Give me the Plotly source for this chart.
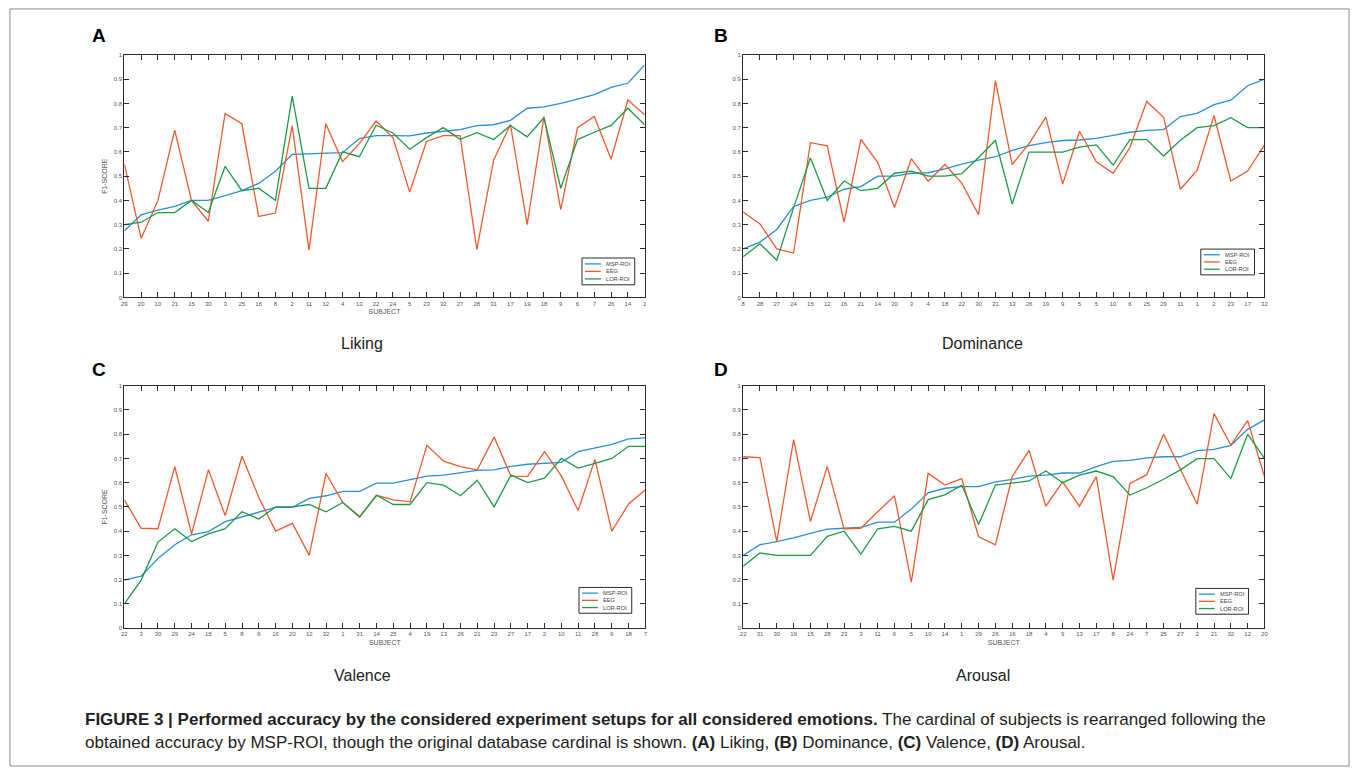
import plotly.graph_objects as go

W, H = 1357, 775

series_names = ["MSP-ROI", "EEG", "LOR-ROI"]
y_ticks = [0, 0.1, 0.2, 0.3, 0.4, 0.5, 0.6, 0.7, 0.8, 0.9, 1]
y_ticktext = ["0", "0.1", "0.2", "0.3", "0.4", "0.5", "0.6", "0.7", "0.8", "0.9", "1"]

# ---- Panel A: Liking ----
labels_A = [29, 20, 10, 21, 15, 30, 3, 25, 16, 8, 2, 11, 12, 4, 13, 22, 24, 5, 23, 32, 27, 28, 31, 17, 19, 18, 9, 6, 7, 26, 14, 1]
msp_A = [0.275, 0.34, 0.36, 0.375, 0.40, 0.40, 0.42, 0.44, 0.47, 0.52, 0.59, 0.592, 0.595, 0.597, 0.655, 0.667,
         0.667, 0.666, 0.678, 0.686, 0.692, 0.708, 0.712, 0.73, 0.78, 0.786, 0.80, 0.818, 0.836, 0.866, 0.883, 0.959]
eeg_A = [0.55, 0.243, 0.40, 0.69, 0.40, 0.314, 0.758, 0.716, 0.334, 0.348, 0.707, 0.195, 0.716, 0.56, 0.634, 0.727,
         0.659, 0.434, 0.643, 0.667, 0.667, 0.198, 0.566, 0.713, 0.30, 0.746, 0.362, 0.70, 0.746, 0.57, 0.814, 0.753]
lor_A = [0.30, 0.31, 0.35, 0.35, 0.40, 0.35, 0.54, 0.44, 0.45, 0.40, 0.83, 0.45, 0.45, 0.60, 0.58, 0.71,
         0.678, 0.611, 0.659, 0.70, 0.652, 0.679, 0.651, 0.709, 0.662, 0.741, 0.45, 0.651, 0.681, 0.709, 0.78, 0.712]

# ---- Panel B: Dominance ----
labels_B = [8, 28, 27, 24, 15, 12, 16, 21, 14, 20, 3, 4, 18, 22, 30, 31, 13, 26, 19, 9, 5, 5, 10, 6, 25, 29, 11, 1, 2, 23, 17, 32]
msp_B = [0.20, 0.228, 0.28, 0.375, 0.40, 0.413, 0.446, 0.457, 0.50, 0.50, 0.512, 0.514, 0.53, 0.55, 0.566, 0.58,
         0.606, 0.626, 0.638, 0.647, 0.649, 0.656, 0.668, 0.681, 0.689, 0.692, 0.746, 0.759, 0.795, 0.813, 0.873, 0.90]
eeg_B = [0.352, 0.303, 0.20, 0.183, 0.638, 0.625, 0.311, 0.652, 0.557, 0.371, 0.572, 0.479, 0.548, 0.471, 0.341, 0.894,
         0.548, 0.634, 0.743, 0.467, 0.685, 0.559, 0.512, 0.618, 0.808, 0.743, 0.446, 0.525, 0.75, 0.48, 0.521, 0.628]
lor_B = [0.168, 0.221, 0.153, 0.37, 0.576, 0.40, 0.48, 0.44, 0.45, 0.512, 0.521, 0.50, 0.50, 0.51, 0.577, 0.648,
         0.385, 0.599, 0.599, 0.599, 0.62, 0.629, 0.546, 0.651, 0.651, 0.583, 0.648, 0.70, 0.708, 0.741, 0.70, 0.70]

# ---- Panel C: Valence ----
labels_C = [22, 3, 30, 29, 24, 15, 5, 8, 6, 16, 20, 12, 32, 1, 31, 14, 25, 4, 19, 13, 26, 21, 23, 27, 17, 2, 10, 11, 28, 9, 18, 7]
msp_C = [0.198, 0.214, 0.287, 0.344, 0.385, 0.398, 0.439, 0.458, 0.48, 0.498, 0.498, 0.535, 0.546, 0.564, 0.564, 0.598,
         0.598, 0.614, 0.627, 0.631, 0.642, 0.651, 0.653, 0.667, 0.676, 0.68, 0.684, 0.728, 0.743, 0.758, 0.781, 0.785]
eeg_C = [0.529, 0.412, 0.41, 0.666, 0.389, 0.653, 0.464, 0.709, 0.539, 0.40, 0.432, 0.30, 0.638, 0.518, 0.457, 0.548,
         0.529, 0.521, 0.754, 0.689, 0.666, 0.653, 0.788, 0.627, 0.626, 0.728, 0.628, 0.485, 0.696, 0.40, 0.512, 0.571]
lor_C = [0.10, 0.198, 0.355, 0.41, 0.357, 0.389, 0.41, 0.48, 0.45, 0.50, 0.50, 0.51, 0.48, 0.518, 0.46, 0.548,
         0.51, 0.51, 0.60, 0.59, 0.546, 0.61, 0.50, 0.631, 0.60, 0.619, 0.70, 0.66, 0.68, 0.70, 0.75, 0.75]

# ---- Panel D: Arousal ----
labels_D = [22, 31, 30, 19, 15, 28, 23, 3, 11, 6, 5, 10, 14, 1, 29, 26, 16, 18, 4, 9, 13, 17, 8, 24, 7, 25, 27, 2, 21, 32, 12, 20]
msp_D = [0.30, 0.344, 0.357, 0.372, 0.391, 0.408, 0.412, 0.415, 0.437, 0.437, 0.491, 0.558, 0.577, 0.584, 0.584, 0.603,
         0.614, 0.627, 0.631, 0.64, 0.64, 0.666, 0.688, 0.692, 0.702, 0.707, 0.707, 0.732, 0.737, 0.754, 0.82, 0.859]
eeg_D = [0.707, 0.703, 0.357, 0.778, 0.44, 0.666, 0.41, 0.412, 0.48, 0.546, 0.19, 0.638, 0.59, 0.617, 0.377, 0.344,
         0.625, 0.733, 0.503, 0.603, 0.503, 0.625, 0.198, 0.597, 0.633, 0.80, 0.655, 0.511, 0.885, 0.755, 0.856, 0.625]
lor_D = [0.255, 0.31, 0.30, 0.30, 0.30, 0.379, 0.40, 0.305, 0.41, 0.42, 0.40, 0.53, 0.55, 0.59, 0.427, 0.59,
         0.598, 0.607, 0.648, 0.60, 0.631, 0.648, 0.625, 0.549, 0.579, 0.614, 0.653, 0.699, 0.699, 0.617, 0.80, 0.70]

colors = ["#2a8fd3", "#ee5a2c", "#1e9a48"]
AX = "#2b2b2b"
TICKC = "#555555"
FONT = "Liberation Sans, Arial, sans-serif"


def px(x):
    return x / W


def py(y):
    return 1 - y / H


panels = [
    dict(letter="A", title="Liking", labels=labels_A, data=[msp_A, eeg_A, lor_A],
         box=(122, 52.3, 645, 296.7), xt=True, yt=True, leg=(582, 257, 635, 284), lab=(97, 33), sub=(361, 343)),
    dict(letter="B", title="Dominance", labels=labels_B, data=[msp_B, eeg_B, lor_B],
         box=(744, 52.3, 1268, 296.7), xt=False, yt=False, leg=(1204, 248, 1258, 274), lab=(722, 33), sub=(985, 343)),
    dict(letter="C", title="Valence", labels=labels_C, data=[msp_C, eeg_C, lor_C],
         box=(122, 385.7, 645.7, 630), xt=True, yt=True, leg=(579, 589, 632, 615), lab=(97, 369), sub=(361, 678)),
    dict(letter="D", title="Arousal", labels=labels_D, data=[msp_D, eeg_D, lor_D],
         box=(744, 385.7, 1268, 630), xt=True, yt=False, leg=(1199, 590, 1252, 616), lab=(722, 369), sub=(985, 678)),
]

fig = go.Figure()
layout = dict(
    width=W, height=H, autosize=False,
    margin=dict(l=0, r=0, t=0, b=0),
    paper_bgcolor="white", plot_bgcolor="white",
    showlegend=False,
    font=dict(family=FONT, color=TICKC),
)
shapes = []
annotations = []

for i, p in enumerate(panels, start=1):
    xa = "x" if i == 1 else f"x{i}"
    ya = "y" if i == 1 else f"y{i}"
    xpos = list(range(len(p["labels"])))
    for name, vals, c in zip(series_names, p["data"], colors):
        fig.add_trace(go.Scatter(x=xpos, y=vals, mode="lines", name=name,
                                 line=dict(color=c, width=1.3), xaxis=xa, yaxis=ya,
                                 hoverinfo="skip"))
    x0, y0, x1, y1 = p["box"]
    common = dict(showline=True, linecolor=AX, linewidth=1, mirror="ticks", ticks="inside",
                  ticklen=5, tickwidth=1, tickcolor=AX, showgrid=False, zeroline=False,
                  tickfont=dict(size=6, color=TICKC, family=FONT), fixedrange=True)
    layout["xaxis" if i == 1 else f"xaxis{i}"] = dict(
        domain=[px(x0), px(x1)], range=[0, len(xpos) - 1], anchor=ya,
        tickmode="array", tickvals=xpos, ticktext=[str(v) for v in p["labels"]],
        title=dict(text="SUBJECT" if p["xt"] else "", font=dict(size=7, color=TICKC), standoff=3),
        **common)
    layout["yaxis" if i == 1 else f"yaxis{i}"] = dict(
        domain=[py(y1), py(y0)], range=[0, 1], anchor=xa,
        tickmode="array", tickvals=y_ticks, ticktext=y_ticktext,
        title=dict(text="F1-SCORE" if p["yt"] else "", font=dict(size=7, color=TICKC), standoff=5),
        **common)

    # legend box (MATLAB-style, drawn small)
    lx0, ly0, lx1, ly1 = p["leg"]
    shapes.append(dict(type="rect", xref="paper", yref="paper", x0=px(lx0), x1=px(lx1), y0=py(ly1), y1=py(ly0),
                       line=dict(color=AX, width=1), fillcolor="white", layer="above"))
    hgt = ly1 - ly0
    for k, (name, c) in enumerate(zip(series_names, colors)):
        yy = ly0 + hgt * (0.22 + 0.28 * k)
        shapes.append(dict(type="line", xref="paper", yref="paper", x0=px(lx0 + 3), x1=px(lx0 + 19),
                           y0=py(yy), y1=py(yy), line=dict(color=c, width=1.3), layer="above"))
        annotations.append(dict(text=name, xref="paper", yref="paper", x=px(lx0 + 22), y=py(yy),
                                xanchor="left", yanchor="middle", showarrow=False,
                                font=dict(size=5.7, color="#444", family=FONT)))

    annotations.append(dict(text=f"<b>{p['letter']}</b>", xref="paper", yref="paper",
                            x=px(p["lab"][0]), y=py(p["lab"][1]), xanchor="center", yanchor="middle",
                            showarrow=False, font=dict(size=19, color="black", family=FONT)))
    annotations.append(dict(text=p["title"], xref="paper", yref="paper",
                            x=px(p["sub"][0]), y=py(p["sub"][1]), xanchor="center", yanchor="middle",
                            showarrow=False, font=dict(size=16, color="#222", family=FONT)))

# figure border
shapes.append(dict(type="rect", xref="paper", yref="paper", x0=px(7), x1=px(1353), y0=py(769), y1=py(6),
                   line=dict(color="#8a8a8a", width=1), layer="below"))

CAP = "Liberation Sans, Arial, sans-serif"
annotations.append(dict(
    text="<b>FIGURE 3 | Performed accuracy by the considered experiment setups for all considered emotions.</b>"
         " The cardinal of subjects is rearranged following the",
    xref="paper", yref="paper", x=px(80), y=py(722), xanchor="left", yanchor="middle",
    showarrow=False, font=dict(size=17, color="#222", family=CAP)))
annotations.append(dict(
    text="obtained accuracy by MSP-ROI, though the original database cardinal is shown. "
         "<b>(A)</b> Liking, <b>(B)</b> Dominance, <b>(C)</b> Valence, <b>(D)</b> Arousal.",
    xref="paper", yref="paper", x=px(80), y=py(745), xanchor="left", yanchor="middle",
    showarrow=False, font=dict(size=17, color="#222", family=CAP)))

layout["shapes"] = shapes
layout["annotations"] = annotations
fig.update_layout(**layout)
fig.write_html("out.html", config={"displayModeBar": False})
